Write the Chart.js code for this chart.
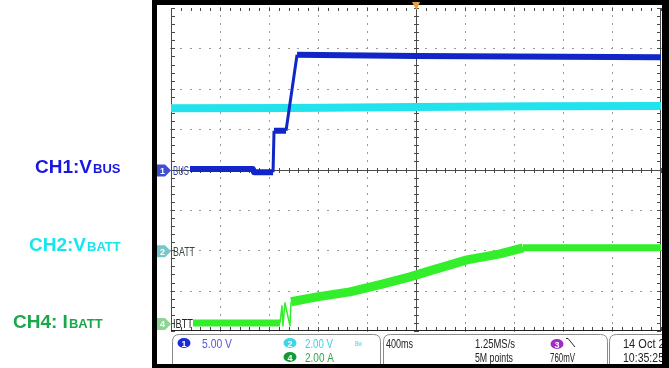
<!DOCTYPE html>
<html>
<head>
<meta charset="utf-8">
<script src="https://cdn.jsdelivr.net/npm/chart.js@4/dist/chart.umd.min.js"></script>
<style>
  html, body { margin: 0; padding: 0; background: #fff; overflow: hidden; }
  canvas { display: block; }
</style>
</head>
<body>
<canvas id="scope" width="669" height="368"></canvas>
<script>
// Horizontal: 400 ms/div over 10 divisions, trigger at centre; 8 vertical divisions
const timePerDiv = 400;
const timeDivs = 10;
const vertDivs = 8;

// CH1 VBUS (V)
const vbusTimes = [-1845, -1331, -1322, -1167, -1159, -1061, -971, 0, 2000];
const vbusVolts = [0.05, 0.05, -0.35, -0.35, 4.8, 4.8, 14.2, 14.05, 13.9];

// CH2 VBATT (V)
const vbattTimes = [-2000, -1000, 0, 1000, 2000];
const vbattVolts = [7.03, 7.05, 7.1, 7.13, 7.15];

// CH4 IBATT (A)
const ibattTimes = [-1820, -1110, -1094, -1086, -1070, -1029, -1020, -808, -539, -269, -49, 139, 416, 686, 873, 2000];
const ibattAmps = [0, 0, 0.85, -0.15, 1.0, -0.15, 1.05, 1.29, 1.54, 1.93, 2.28, 2.63, 3.12, 3.42, 3.72, 3.72];

// Channel settings
const channelIds = ['1', '2', '4'];
const channelTags = ['BUS', 'BATT', 'IBTT'];
const channelUnits = ['V', 'V', 'A'];
const channelScales = [5, 2, 2];          // units per division
const channelOffsets = [0, -2, -3.8];     // ground marker position, divisions
const traceColors = ['#1026c8', '#22e2ec', '#33ee2a'];
const markerColors = ['#3f4fd2', '#74c8cc', '#8ed492'];
const tagColors = ['#2c3a88', '#3c4848', '#222222'];
const traceWidths = [[6, 6, 3], [8, 8, 8], [7, 9, 1.5]]; // [flat, sloped, steep]

// Side captions
const captionMain = ['CH1:V', 'CH2:V', 'CH4: I'];
const captionSub = ['BUS', 'BATT', 'BATT'];
const captionColors = ['#1818e0', '#14e6f0', '#18a84a'];
const captionX = [35, 29, 13];
const captionBaseline = [173, 251, 328];

const series = [[vbusTimes, vbusVolts], [vbattTimes, vbattVolts], [ibattTimes, ibattAmps]];
const toDiv = (v, i) => v / channelScales[i] + channelOffsets[i];

function segWidth(c, i) {
  const dx = Math.abs(c.p1.x - c.p0.x), dy = Math.abs(c.p1.y - c.p0.y);
  if (dy > 3 * dx) return traceWidths[i][2];
  if (dy > 0.05 * dx) return traceWidths[i][1];
  return traceWidths[i][0];
}

const datasets = series.map(([ts, vs], i) => ({
  label: 'CH' + channelIds[i],
  data: ts.map((t, k) => ({ x: t, y: toDiv(vs[k], i) })),
  borderColor: traceColors[i],
  borderWidth: traceWidths[i][0],
  borderJoinStyle: 'round',
  pointRadius: 0,
  tension: 0,
  fill: false,
  segment: { borderWidth: c => segWidth(c, i) }
}));

const halfSpan = timePerDiv * timeDivs / 2;

// Graticule: dotted divisions, centre cross and edge ticks
const scopeGrid = {
  id: 'scopeGrid',
  beforeDatasetsDraw(chart) {
    const { ctx, chartArea: a, scales: { x, y } } = chart;
    const w = a.right - a.left, h = a.bottom - a.top;
    ctx.save();
    ctx.fillStyle = '#999';
    for (let i = 1; i < timeDivs; i++) {
      if (i === timeDivs / 2) continue;
      const px = Math.round(x.getPixelForValue(-halfSpan + i * timePerDiv));
      for (let m = -vertDivs / 2 * 5; m <= vertDivs / 2 * 5; m++) {
        const py = Math.round(y.getPixelForValue(m / 5));
        ctx.fillRect(px, py - 1, 1, 2);
      }
    }
    for (let j = 1; j < vertDivs; j++) {
      if (j === vertDivs / 2) continue;
      const py = Math.round(y.getPixelForValue(-vertDivs / 2 + j));
      for (let m = 0; m <= timeDivs * 5; m++) {
        const px = Math.round(x.getPixelForValue(-halfSpan + m * timePerDiv / 5));
        ctx.fillRect(px - 1, py, 2, 1);
      }
    }
    // centre cross
    ctx.fillStyle = '#4a4a4a';
    const cx = Math.round(x.getPixelForValue(0));
    const cy = Math.round(y.getPixelForValue(0));
    ctx.fillRect(cx, a.top, 1, h);
    ctx.fillRect(a.left, cy, w, 1);
    for (let m = 0; m <= timeDivs * 5; m++) {
      const px = Math.round(x.getPixelForValue(-halfSpan + m * timePerDiv / 5));
      ctx.fillRect(px, cy - 2, 1, 5);
      ctx.fillRect(px, a.bottom - 4, 1, 4);
      ctx.fillRect(px, a.top, 1, 3);
    }
    for (let m = -vertDivs / 2 * 5; m <= vertDivs / 2 * 5; m++) {
      const py = Math.round(y.getPixelForValue(m / 5));
      ctx.fillRect(cx - 2, py, 5, 1);
      ctx.fillRect(a.left, py, 4, 1);
      ctx.fillRect(a.right - 4, py, 4, 1);
    }
    // edges
    ctx.fillRect(a.left, a.top, 1, h);
    ctx.fillRect(a.right - 1, a.top, 1, h);
    ctx.fillStyle = '#222';
    ctx.fillRect(a.left, a.bottom - 1, w, 1);
    ctx.restore();
  }
};

function roundBox(ctx, x0, y0, w, h, r) {
  ctx.beginPath();
  ctx.moveTo(x0 + r, y0);
  ctx.lineTo(x0 + w - r, y0);
  ctx.quadraticCurveTo(x0 + w, y0, x0 + w, y0 + r);
  ctx.lineTo(x0 + w, y0 + h);
  ctx.moveTo(x0, y0 + h);
  ctx.lineTo(x0, y0 + r);
  ctx.quadraticCurveTo(x0, y0, x0 + r, y0);
  ctx.stroke();
}

function badge(ctx, cx, cy, fill, label) {
  ctx.fillStyle = fill;
  ctx.beginPath();
  ctx.ellipse(cx, cy, 6.5, 5, 0, 0, Math.PI * 2);
  ctx.fill();
  ctx.fillStyle = '#fff';
  ctx.font = "bold 9px 'Liberation Sans', sans-serif";
  ctx.textAlign = 'center';
  ctx.fillText(label, cx, cy + 3.5);
  ctx.textAlign = 'left';
}

function text(ctx, s, x0, y0, color, size, maxW) {
  ctx.fillStyle = color;
  ctx.font = size + "px 'Liberation Sans Narrow', 'Liberation Sans', sans-serif";
  if (maxW) ctx.fillText(s, x0, y0, maxW); else ctx.fillText(s, x0, y0);
}

// Channel markers, readout bar, bezel and side captions
const scopeOverlay = {
  id: 'scopeOverlay',
  afterDraw(chart) {
    const { ctx, chartArea: a, scales: { x, y } } = chart;
    ctx.save();
    ctx.textBaseline = 'alphabetic';

    // ground markers with tags
    const tagW = [16, 22, 20];
    channelIds.forEach((id, i) => {
      const py = y.getPixelForValue(channelOffsets[i]) + 1;
      ctx.fillStyle = markerColors[i];
      ctx.beginPath();
      ctx.moveTo(157, py - 6);
      ctx.lineTo(165, py - 6);
      ctx.lineTo(171, py);
      ctx.lineTo(165, py + 6);
      ctx.lineTo(157, py + 6);
      ctx.closePath();
      ctx.fill();
      ctx.fillStyle = '#fff';
      ctx.font = "bold 9px 'Liberation Sans', sans-serif";
      ctx.fillText(id, 160, py + 3.5);
      text(ctx, channelTags[i], 173, py + 4.5, tagColors[i], 12, tagW[i]);
    });

    // readout bar
    ctx.strokeStyle = '#8a8a8a';
    ctx.lineWidth = 1;
    roundBox(ctx, 172.5, 334.5, 208, 32, 7);
    roundBox(ctx, 383.5, 334.5, 224, 32, 7);
    roundBox(ctx, 609.5, 334.5, 60, 32, 7);

    const row1 = 347.5, row2 = 361.5;
    const fs = 13;
    badge(ctx, 184, 343, '#1a2ad6', channelIds[0]);
    text(ctx, channelScales[0].toFixed(2) + ' ' + channelUnits[0], 202, row1, '#5656dc', fs, 30);
    badge(ctx, 290, 343, '#3cd6e6', channelIds[1]);
    text(ctx, channelScales[1].toFixed(2) + ' ' + channelUnits[1], 305, row1, '#3fcfe6', fs, 28);
    text(ctx, 'Bw', 355, 346, '#3fcfe6', 8, 7);
    badge(ctx, 290, 357, '#139a36', channelIds[2]);
    text(ctx, channelScales[2].toFixed(2) + ' ' + channelUnits[2], 305, row2, '#2ea844', fs, 29);

    text(ctx, timePerDiv + 'ms', 386, row1, '#222', fs, 27);
    text(ctx, '1.25MS/s', 475, row1, '#222', fs, 40);
    text(ctx, '5M points', 475, row2, '#222', fs, 38);
    badge(ctx, 557, 344, '#a22cc2', '3');
    ctx.strokeStyle = '#222';
    ctx.beginPath();
    ctx.moveTo(566, 338.5);
    ctx.lineTo(568, 338.5);
    ctx.lineTo(575, 347);
    ctx.stroke();
    text(ctx, '760mV', 550, row2, '#222', fs, 25);
    text(ctx, '14 Oct 2016', 623, row1, '#222', fs, 60);
    text(ctx, '10:35:25', 623, row2, '#222', fs, 41);

    // bezel
    ctx.fillStyle = '#000';
    ctx.fillRect(152, 0, 5, 368);
    ctx.fillRect(152, 0, 517, 5);
    ctx.fillRect(662, 0, 7, 368);
    ctx.fillRect(152, 364, 517, 4);

    // trigger position marker
    const tx = x.getPixelForValue(0);
    ctx.fillStyle = '#e8a040';
    ctx.beginPath();
    ctx.moveTo(tx - 4, 2);
    ctx.lineTo(tx + 4, 2);
    ctx.lineTo(tx + 0.5, 10);
    ctx.closePath();
    ctx.fill();

    // side captions
    captionMain.forEach((s, i) => {
      ctx.fillStyle = captionColors[i];
      ctx.font = "bold 19px 'Liberation Sans', Arial, sans-serif";
      ctx.fillText(s, captionX[i], captionBaseline[i]);
      const wMain = ctx.measureText(s).width;
      ctx.font = "bold 13px 'Liberation Sans', Arial, sans-serif";
      ctx.fillText(captionSub[i], captionX[i] + wMain + 1, captionBaseline[i]);
    });
    ctx.restore();
  }
};

new Chart(document.getElementById('scope'), {
  type: 'line',
  data: { datasets },
  options: {
    responsive: false,
    animation: false,
    devicePixelRatio: 1,
    events: [],
    layout: { padding: { left: 171, right: 8, top: 8, bottom: 37 } },
    plugins: { legend: { display: false }, tooltip: { enabled: false } },
    scales: {
      x: { type: 'linear', min: -halfSpan, max: halfSpan, display: false },
      y: { type: 'linear', min: -vertDivs / 2, max: vertDivs / 2, display: false }
    }
  },
  plugins: [scopeGrid, scopeOverlay]
});
</script>
</body>
</html>
